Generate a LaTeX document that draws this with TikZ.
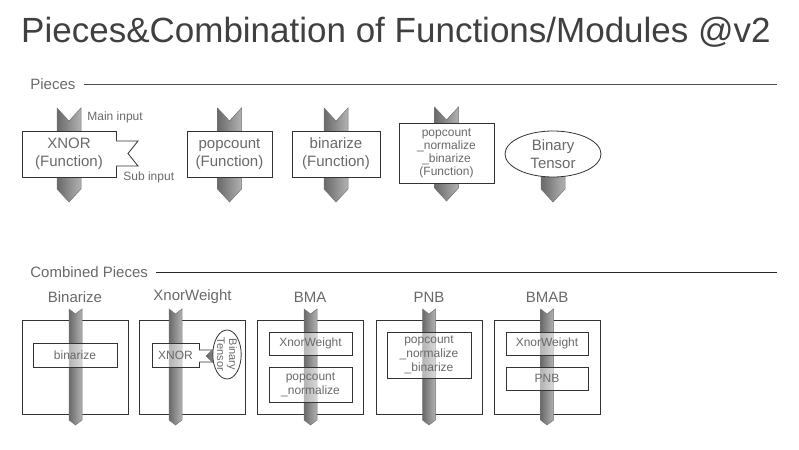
\documentclass[tikz,border=0pt]{standalone}
\usepackage{fontspec}
\setmainfont{Liberation Sans}
\usetikzlibrary{shapes.geometric}
\definecolor{arrowDark}{RGB}{105,105,105}
\definecolor{arrowLight}{RGB}{178,178,178}
\definecolor{labelGray}{RGB}{105,105,105}
% flow arrow: x, top y, tip y, half width, notch depth
\newcommand{\flowarrow}[5]{\shade[draw=black!55,line width=0.5pt,left color=arrowDark,right color=arrowLight] (#1-#4,#2) -- (#1,#2+#5) -- (#1+#4,#2) -- (#1+#4,#3-#5) -- (#1,#3) -- (#1-#4,#3-#5) -- cycle;}

\begin{document}
\begin{tikzpicture}[x=1pt,y=-1pt,line width=0.8pt,every node/.style={align=center,text=labelGray},
  piecebox/.style={draw=black!80,fill=white,inner sep=0pt,font=\fontsize{15}{18}\selectfont},
  modbox/.style={draw=black!80,inner sep=0pt},
  partbox/.style={draw=black!80,fill=white,fill opacity=0.5,text opacity=1,inner sep=0pt,font=\fontsize{12}{14}\selectfont},
  secname/.style={anchor=west,inner sep=0pt,font=\fontsize{15}{17}\selectfont},
  modname/.style={inner sep=0pt,font=\fontsize{15}{17}\selectfont},
  hint/.style={anchor=west,inner sep=0pt,font=\fontsize{12}{14}\selectfont}]
\useasboundingbox (0,0) rectangle (799,449);
\node[text=black!75,font=\fontsize{35}{40}\selectfont,inner sep=0pt] (title) at (396,32) {Pieces\&Combination of Functions/Modules @v2};

% pieces
\node[secname] (secP) at (30,84) {Pieces};
\coordinate (secPend) at (777,84);
\draw[black!70,line width=0.7pt] ([xshift=8pt]secP.east) -- (secPend);
\flowarrow{69}{108}{202}{12}{13}
\node[piecebox,minimum width=94pt,minimum height=46pt] (xnorF) at (69,154) {XNOR\\(Function)};
\draw[draw=black!80,fill=white] (116,141) -- (138,141) -- (128,153.5) -- (138,166) -- (116,166);
\node[hint] (mainIn) at (87,117) {Main input};
\node[hint] (subIn) at (123,177) {Sub input};
\flowarrow{229.5}{108}{202}{12}{13}
\node[piecebox,minimum width=85pt,minimum height=46pt] (popF) at (229.5,154) {popcount\\(Function)};
\flowarrow{336}{108}{202}{12}{13}
\node[piecebox,minimum width=88pt,minimum height=46pt] (binF) at (336,154) {binarize\\(Function)};
\flowarrow{446.5}{107}{201}{12}{13}
\node[piecebox,minimum width=95pt,minimum height=60pt,font=\fontsize{12}{13}\selectfont] (pnbF) at (446.5,153) {popcount\\\_normalize\\\_binarize\\(Function)};
\flowarrow{553}{150}{202}{12}{13}
\node[piecebox,ellipse,minimum width=96pt,minimum height=46pt] (tensorF) at (553,154) {Binary\\Tensor};

% combined pieces
\node[secname] (secC) at (30,272) {Combined Pieces};
\coordinate (secCend) at (777,272);
\draw[black!85,line width=0.7pt] ([xshift=8pt]secC.east) -- (secCend);
\foreach \cx/\nm/\txt in {75/binM/Binarize,192.5/xwM/XnorWeight,310/bmaM/BMA,429/pnbM/PNB,547/bmabM/BMAB}{
  \node[modbox,minimum width=106pt,minimum height=94pt] (\nm) at (\cx,367) {};
  \node[modname] (\nm T) at (\cx,297) {\txt};
}
\foreach \bx in {75.5,175.5,310.5,429,547}{\flowarrow{\bx}{309}{425}{6.5}{5}}
\node[partbox,minimum width=84pt,minimum height=24pt] (binP) at (75,355) {binarize};
\node[partbox,minimum width=47pt,minimum height=24pt] (xnorP) at (175.5,355) {XNOR};
\draw[draw=black!80,fill=white] (199,350) -- (218,350) -- (210,356) -- (218,362) -- (199,362);
\shade[draw=black!55,line width=0.5pt,left color=arrowDark,right color=arrowLight] (206,356) -- (212,350) -- (224,350) -- (224,362) -- (212,362) -- cycle;
\node[draw=black!80,fill=white,ellipse,inner sep=0pt,minimum width=49pt,minimum height=26pt,rotate=-90,font=\fontsize{11}{12}\selectfont] (tensorP) at (227,354.5) {Binary\\Tensor};
\node[partbox,minimum width=83pt,minimum height=23pt] (bmaXw) at (310.5,343.5) {XnorWeight};
\node[partbox,minimum width=83pt,minimum height=35pt] (bmaPn) at (310.5,384.5) {popcount\\\_normalize};
\node[partbox,minimum width=84pt,minimum height=46pt] (pnbP) at (429,355) {popcount\\\_normalize\\\_binarize};
\node[partbox,minimum width=82pt,minimum height=23pt] (bmabXw) at (547,343.5) {XnorWeight};
\node[partbox,minimum width=82pt,minimum height=23pt] (bmabPnb) at (547,378.5) {PNB};
\end{tikzpicture}
\end{document}
